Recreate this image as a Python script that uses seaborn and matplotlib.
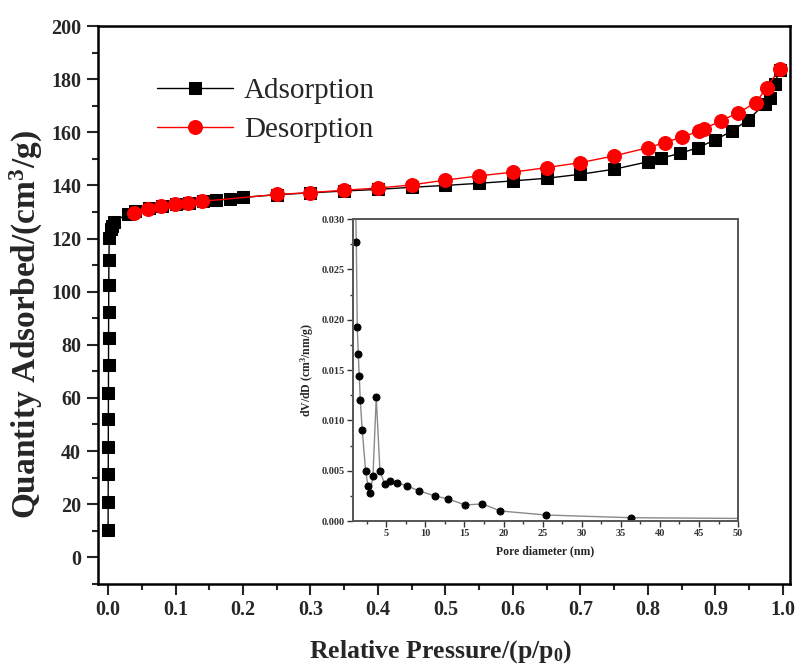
import numpy as np
import pandas as pd
import matplotlib
matplotlib.use("Agg")
import matplotlib.pyplot as plt
from matplotlib.ticker import MultipleLocator, FormatStrFormatter
import seaborn as sns

# adsorption branch (relative pressure, quantity adsorbed cm3/g)
ads_p = [0.0001, 0.0002, 0.0003, 0.0004, 0.0005, 0.0006, 0.0007, 0.0008, 0.0009,
         0.0011, 0.0013, 0.0018, 0.004, 0.0055, 0.009, 0.03, 0.04, 0.06, 0.08,
         0.10, 0.12, 0.14, 0.16, 0.18, 0.20, 0.25, 0.30, 0.35, 0.40, 0.45, 0.50,
         0.55, 0.60, 0.65, 0.70, 0.75, 0.80, 0.82, 0.848, 0.874, 0.90, 0.924,
         0.948, 0.973, 0.981, 0.988, 0.995]
ads_v = [10.4, 20.8, 31.2, 41.5, 51.9, 62.0, 72.4, 82.6, 92.4,
         102.6, 112.1, 120.2, 123.6, 124.8, 126.4, 129.4, 130.3, 131.4, 132.2,
         132.9, 133.5, 134.0, 134.5, 134.8, 135.5, 136.5, 137.2, 137.9, 138.5, 139.3, 140.0,
         140.8, 141.7, 142.7, 144.2, 146.1, 148.9, 150.3, 152.1, 154.2, 157.2, 160.4,
         164.6, 170.6, 173.0, 178.3, 183.5]

# desorption branch
des_p = [0.039, 0.059, 0.0785, 0.099, 0.119, 0.139, 0.25, 0.30, 0.35, 0.40, 0.45,
         0.50, 0.55, 0.60, 0.65, 0.70, 0.75, 0.80, 0.825, 0.85, 0.876, 0.883,
         0.908, 0.934, 0.96, 0.976, 0.995]
des_v = [129.6, 131.1, 132.3, 133.0, 133.3, 134.0, 136.6, 137.3, 138.2, 139.0, 140.2,
         142.0, 143.6, 145.0, 146.7, 148.6, 151.1, 154.2, 156.1, 158.2, 160.4, 161.3,
         164.3, 167.4, 171.2, 176.8, 183.8]

# pore size distribution (inset)
pore_d = [0.95, 1.17, 1.29, 1.42, 1.55, 1.68, 1.93, 2.36, 2.66, 2.95, 3.30, 3.72,
          4.19, 4.78, 5.47, 6.40, 7.6, 9.2, 11.2, 12.9, 15.1, 17.3, 19.6, 25.4,
          36.3, 62.0]
pore_dv = [0.036, 0.0277, 0.0193, 0.0166, 0.0144, 0.0120, 0.0090, 0.0050, 0.0035,
           0.0028, 0.0045, 0.0123, 0.0050, 0.0037, 0.0040, 0.0038, 0.0035, 0.0030,
           0.0025, 0.0022, 0.0016, 0.0017, 0.0010, 0.0006, 0.00033, 0.0002]

sns.set_style("ticks")
plt.rcParams["font.family"] = ["Liberation Serif", "DejaVu Serif"]
plt.rcParams["font.weight"] = "bold"
plt.rcParams["mathtext.fontset"] = "custom"
plt.rcParams["mathtext.rm"] = "Liberation Serif:bold"
plt.rcParams["mathtext.it"] = "Liberation Serif:bold"
plt.rcParams["mathtext.bf"] = "Liberation Serif:bold"
plt.rcParams["mathtext.default"] = "rm"

fig = plt.figure(figsize=(7.96, 6.68), dpi=100)
ax = fig.add_axes([0.123, 0.126, 0.869, 0.835])

sns.lineplot(x=ads_p, y=ads_v, ax=ax, color="black", lw=1.0, marker="s",
             markersize=8.5, markeredgecolor="black", label="Adsorption",
             estimator=None)
sns.lineplot(x=des_p, y=des_v, ax=ax, color="red", lw=1.0, marker="o",
             markersize=10, markeredgecolor="red", label="Desorption",
             estimator=None)

ax.set_xlim(-0.015, 1.01)
ax.set_ylim(-10, 200)
ax.xaxis.set_major_locator(MultipleLocator(0.1))
ax.xaxis.set_minor_locator(MultipleLocator(0.05))
ax.yaxis.set_major_locator(MultipleLocator(20))
ax.yaxis.set_minor_locator(MultipleLocator(10))
ax.tick_params(which="major", direction="out", length=8, width=1.5, labelsize=14.5, pad=4)
ax.tick_params(which="minor", direction="out", length=4, width=1.5)
ax.tick_params(top=False, right=False, which="both")
for s in ax.spines.values():
    s.set_linewidth(1.8)
    s.set_color("black")
for lab in ax.get_xticklabels() + ax.get_yticklabels():
    lab.set_fontweight("bold")

ax.set_xlabel("Relative Pressure/(p/p$_0$)", fontsize=18.5, fontweight="bold")
ax.xaxis.set_label_coords(0.495, -0.097)
ax.set_ylabel("Quantity Adsorbed/(cm$^3$/g)", fontsize=24, fontweight="bold")
ax.yaxis.set_label_coords(-0.077, 0.465)

leg = ax.legend(loc="upper left", bbox_to_anchor=(0.047, 0.955), frameon=False,
                prop={"family": "Liberation Serif", "size": 21, "weight": "normal"},
                handlelength=2.6, labelspacing=0.45, handletextpad=0.4)

# inset: pore size distribution
ins = fig.add_axes([0.4435, 0.22, 0.4837, 0.452])
sns.lineplot(x=pore_d, y=pore_dv, ax=ins, color="#8a8a8a", lw=1.0, marker="o",
             markersize=5, markerfacecolor="black", markeredgecolor="black",
             estimator=None, sort=False)
ins.set_xlim(0.75, 50)
ins.set_ylim(0, 0.030)
ins.set_xticks([5, 10, 15, 20, 25, 30, 35, 40, 45, 50])
ins.xaxis.set_minor_locator(MultipleLocator(2.5))
ins.yaxis.set_major_locator(MultipleLocator(0.005))
ins.yaxis.set_minor_locator(MultipleLocator(0.0025))
ins.yaxis.set_major_formatter(FormatStrFormatter("%.3f"))
ins.tick_params(which="major", direction="out", length=4, width=1, labelsize=7.5, pad=2,
                colors="#333333")
ins.tick_params(which="minor", direction="out", length=2, width=1, colors="#333333")
for s in ins.spines.values():
    s.set_linewidth(1.4)
    s.set_color("#555555")
for lab in ins.get_xticklabels() + ins.get_yticklabels():
    lab.set_fontweight("bold")
ins.set_xlabel("Pore diameter (nm)", fontsize=8.5, fontweight="bold", labelpad=5)
ins.set_ylabel("dV/dD (cm$^3$/nm/g)", fontsize=8.5, fontweight="bold", labelpad=4)

fig.savefig("out.png", dpi=100)
